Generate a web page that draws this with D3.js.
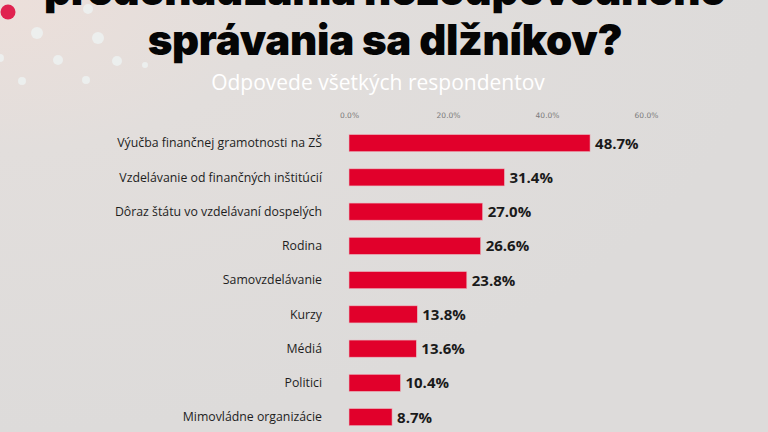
<!DOCTYPE html>
<html><head><meta charset="utf-8">
<script src="https://cdn.jsdelivr.net/npm/d3@7"></script>
<style>
html,body{margin:0;padding:0;overflow:hidden;}
svg{display:block;}
</style></head>
<body>
<svg id="chart" width="768" height="432"></svg>
<script>
const categories = [
  "Výučba finančnej gramotnosti na ZŠ",
  "Vzdelávanie od finančných inštitúcií",
  "Dôraz štátu vo vzdelávaní dospelých",
  "Rodina",
  "Samovzdelávanie",
  "Kurzy",
  "Médiá",
  "Politici",
  "Mimovládne organizácie"
];
const values = [48.7, 31.4, 27.0, 26.6, 23.8, 13.8, 13.6, 10.4, 8.7];
const tickValues = [0, 20, 40, 60];
const titleLines = ["predchádzania nezodpovedného", "správania sa dlžníkov?"];
const subtitle = "Odpovede všetkých respondentov";

const svg = d3.select("#chart");
const W = 768, H = 432;

// background
const defs = svg.append("defs");
const grad = defs.append("radialGradient").attr("id","bg").attr("cx","0").attr("cy","0").attr("r","1");
grad.append("stop").attr("offset","0").attr("stop-color","#ecdfda");
grad.append("stop").attr("offset","0.35").attr("stop-color","#e2dedc");
grad.append("stop").attr("offset","1").attr("stop-color","#dddbda");
svg.append("rect").attr("width",W).attr("height",H).attr("fill","url(#bg)");

// decorative dots (top-left)
const dots = [[88,9,5],[37,33,6],[98,38,6],[58,60,5],[117,61,5],[22,81,4],[86,80,4],[145,65,3],[0,58,4]];
svg.append("g").selectAll("circle").data(dots).join("circle")
  .attr("cx",d=>d[0]).attr("cy",d=>d[1]).attr("r",d=>d[2])
  .attr("fill","#eef2f3").attr("opacity",0.8);
svg.append("circle").attr("cx",8).attr("cy",12).attr("r",7.5).attr("fill","#e0224f");

// title
svg.append("g").selectAll("text").data(titleLines).join("text")
  .attr("x",385).attr("y",(d,i)=>5 + i*50)
  .attr("text-anchor","middle")
  .attr("font-family","Inter, 'Open Sans', sans-serif")
  .attr("font-weight",900)
  .attr("font-size",42)
  .attr("letter-spacing","-0.3")
  .attr("fill","#050505")
  .text(d=>d);

svg.append("text").attr("x",378).attr("y",90)
  .attr("text-anchor","middle")
  .attr("font-family","'Open Sans', sans-serif")
  .attr("font-size",21)
  .attr("fill","#ffffff")
  .text(subtitle);

// scales
const x = d3.scaleLinear().domain([0,60]).range([349,646]);
const y = d3.scaleBand().domain(categories).range([126,434.25]).paddingInner(0.5).paddingOuter(0.25);

// axis (top)
const axis = d3.axisTop(x).tickValues(tickValues).tickFormat(d=>d3.format(".1f")(d)+"%").tickSize(0).tickPadding(0);
const ag = svg.append("g").attr("transform","translate(0,118)").call(axis);
ag.select(".domain").remove();
ag.selectAll("text").attr("font-family","'DejaVu Sans', sans-serif").attr("font-size",7.5).attr("fill","#7a7a7a");

// bars
svg.append("g").selectAll("rect").data(values).join("rect")
  .attr("x",x(0))
  .attr("y",(d,i)=>y(categories[i]))
  .attr("width",d=>x(d)-x(0))
  .attr("height",y.bandwidth())
  .attr("fill","#e1002b")
  .attr("stroke","#e8b8c0").attr("stroke-width",0.6);

// value labels
svg.append("g").selectAll("text").data(values).join("text")
  .attr("x",d=>x(d)+5)
  .attr("y",(d,i)=>y(categories[i])+y.bandwidth()/2)
  .attr("dy","0.36em")
  .attr("font-family","'Open Sans', sans-serif")
  .attr("font-weight",700)
  .attr("font-size",15)
  .attr("fill","#1a1a1a")
  .text(d=>d3.format(".1f")(d)+"%");

// category labels
svg.append("g").selectAll("text").data(categories).join("text")
  .attr("x",322)
  .attr("y",d=>y(d)+y.bandwidth()/2)
  .attr("dy","0.35em")
  .attr("text-anchor","end")
  .attr("font-family","'Open Sans', sans-serif")
  .attr("font-size",12.3)
  .attr("fill","#1e1e1e")
  .text(d=>d);
</script>
</body></html>
